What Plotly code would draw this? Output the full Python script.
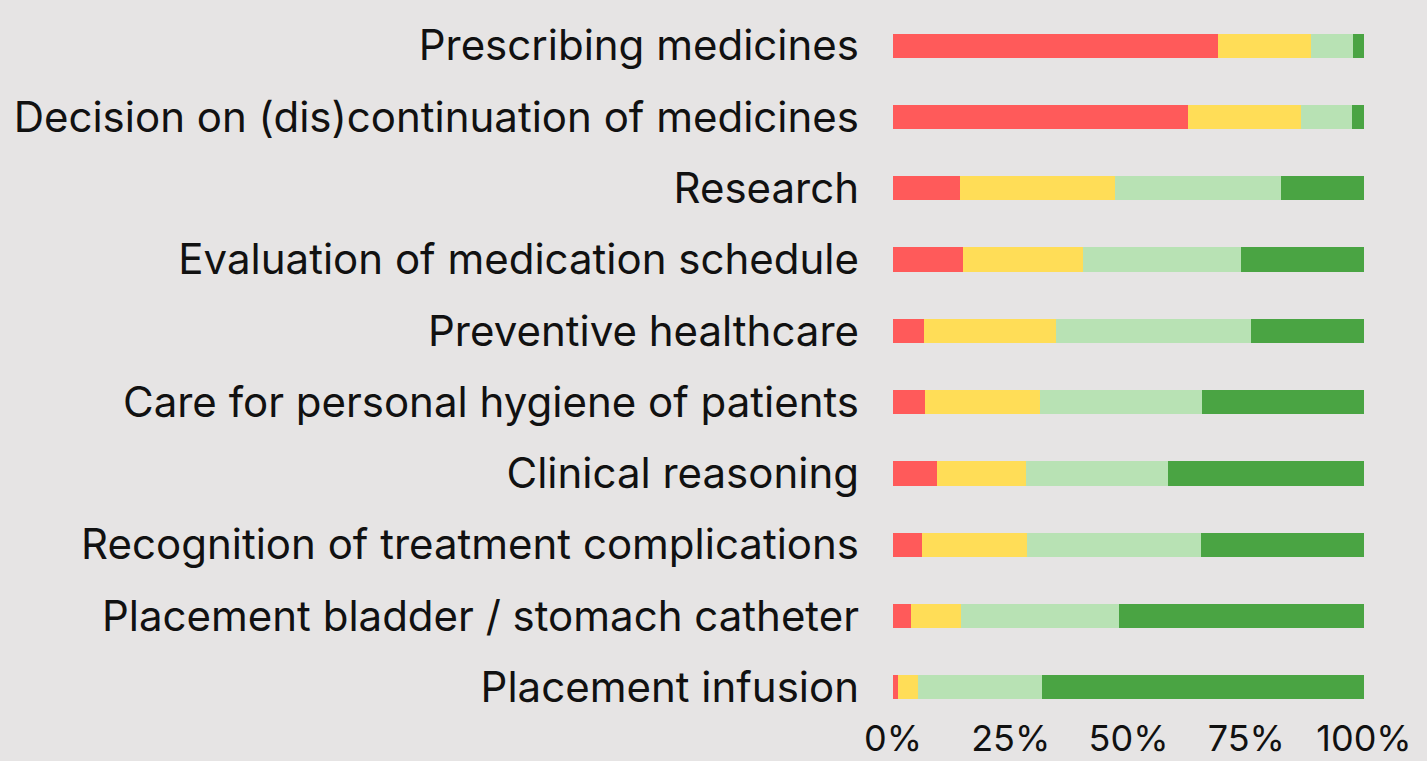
import plotly.graph_objects as go

categories = [
    "Prescribing medicines",
    "Decision on (dis)continuation of medicines",
    "Research",
    "Evaluation of medication schedule",
    "Preventive healthcare",
    "Care for personal hygiene of patients",
    "Clinical reasoning",
    "Recognition of treatment complications",
    "Placement bladder / stomach catheter",
    "Placement infusion",
]

red_vals = [69.0, 62.6, 14.2, 14.9, 6.6, 6.8, 9.3, 6.2, 3.8, 1.0]
yellow_vals = [19.7, 24.1, 32.9, 25.5, 28.0, 24.4, 18.9, 22.3, 10.6, 4.4]
lightgreen_vals = [8.9, 10.7, 35.2, 33.5, 41.4, 34.4, 30.1, 36.9, 33.5, 26.2]
darkgreen_vals = [2.4, 2.6, 17.7, 26.1, 24.0, 34.4, 41.7, 34.6, 52.1, 68.4]

series = [
    ("Red", red_vals, "#FF5A5A"),
    ("Yellow", yellow_vals, "#FFDD57"),
    ("Light green", lightgreen_vals, "#B8E2B4"),
    ("Dark green", darkgreen_vals, "#4AA443"),
]

tick_vals = [0, 25, 50, 75, 100]
tick_text = ["0%", "25%", "50%", "75%", "100%"]

fig = go.Figure()
for name, vals, color in series:
    fig.add_trace(go.Bar(
        y=categories, x=vals, name=name, orientation="h",
        marker=dict(color=color, line=dict(width=0)),
    ))

fig.update_layout(
    barmode="stack",
    bargap=0.66,
    width=1427, height=761,
    paper_bgcolor="#E6E4E4",
    plot_bgcolor="#E6E4E4",
    showlegend=False,
    margin=dict(l=893, r=63, t=10, b=38, autoexpand=False),
    font=dict(family="Inter", color="#111111"),
)
fig.update_xaxes(
    range=[0, 100], tickvals=tick_vals, ticktext=tick_text,
    showgrid=False, zeroline=False, showline=False,
    tickfont=dict(size=36, family="Inter", color="#111111"),
    ticklen=0, automargin=False, ticklabelstandoff=0,
    anchor="free", position=0.013,
)
fig.update_yaxes(
    categoryorder="array", categoryarray=categories, autorange="reversed",
    showgrid=False, zeroline=False, showline=False,
    tickfont=dict(size=42, family="Inter", color="#111111"),
    ticklen=0, ticks="", automargin=False, ticklabelstandoff=33,
)

fig.write_html(
    "out.html",
    config={"displayModeBar": False},
    post_script="document.body.style.margin='0';document.body.style.overflow='hidden';",
)
